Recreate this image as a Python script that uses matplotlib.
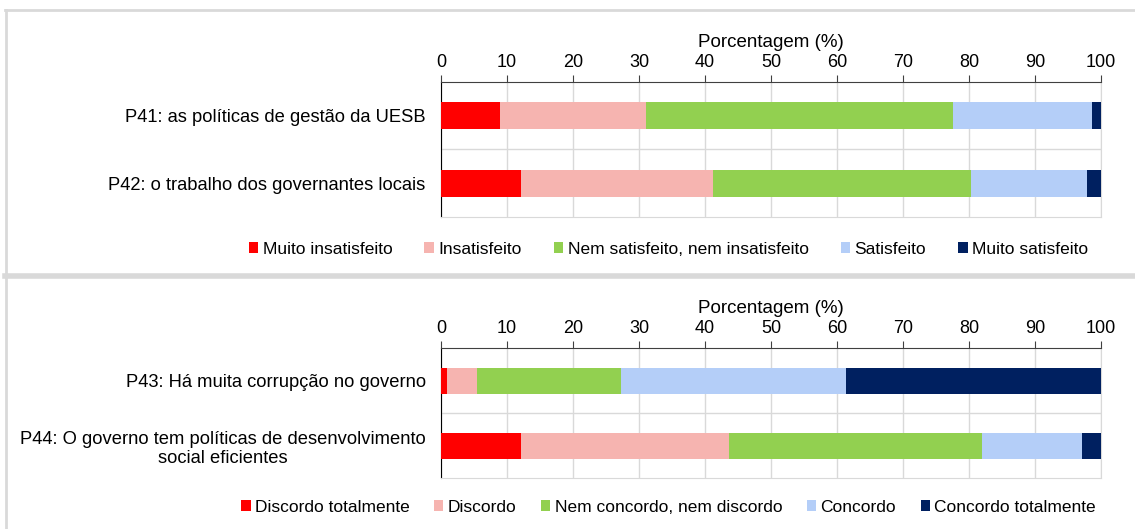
import matplotlib.pyplot as plt
import numpy as np
from matplotlib.patches import Patch
from matplotlib.lines import Line2D

plt.rcParams['font.family'] = ['Liberation Sans', 'DejaVu Sans']

# top chart: satisfaction
cats_top = ['P41: as políticas de gestão da UESB',
            'P42: o trabalho dos governantes locais']
labels_top = ['Muito insatisfeito', 'Insatisfeito', 'Nem satisfeito, nem insatisfeito',
              'Satisfeito', 'Muito satisfeito']
vals_top = [[8.9, 12.1],
            [22.2, 29.1],
            [46.4, 39.1],
            [21.2, 17.6],
            [1.3, 2.1]]

# bottom chart: agreement
cats_bot = ['P43: Há muita corrupção no governo',
            'P44: O governo tem políticas de desenvolvimento\nsocial eficientes']
labels_bot = ['Discordo totalmente', 'Discordo', 'Nem concordo, nem discordo',
              'Concordo', 'Concordo totalmente']
vals_bot = [[0.9, 12.1],
            [4.5, 31.6],
            [21.9, 38.3],
            [34.0, 15.1],
            [38.7, 2.9]]

colors = ['#FF0000', '#F6B4B0', '#92D050', '#B4CEF8', '#002060']
grid_c = '#D9D9D9'

fig = plt.figure(figsize=(11.35, 5.29), dpi=100)

# panel frames
fig.add_artist(Line2D([0.004, 1.0], [1 - 10/529, 1 - 10/529], color=grid_c, lw=2))
fig.add_artist(Line2D([0.005, 0.005], [0, 1 - 10/529], color=grid_c, lw=2))
fig.add_artist(Line2D([0.004, 1.0], [1 - 275.5/529, 1 - 275.5/529], color=grid_c, lw=4))


def draw(ax, cats, vals, labels, legend_y, colspace):
    y = np.arange(len(cats))
    left = np.zeros(len(cats))
    handles = []
    for v, c, lab in zip(vals, colors, labels):
        ax.barh(y, v, left=left, height=0.4, color=c, zorder=3)
        left += np.array(v)
        handles.append(Patch(facecolor=c, label=lab))
    ax.set_xlim(0, 100)
    ax.set_ylim(len(cats) - 0.5, -0.5)
    ax.set_xticks(np.arange(0, 101, 10))
    ax.xaxis.tick_top()
    ax.xaxis.set_label_position('top')
    ax.set_xlabel('Porcentagem (%)', fontsize=13.5, labelpad=5)
    ax.tick_params(axis='x', labelsize=13, length=5, color='#404040', pad=3)
    ax.set_yticks(y)
    ax.set_yticklabels(cats, fontsize=13.2, multialignment='center')
    ax.tick_params(axis='y', length=0, pad=11)
    ax.set_yticks(np.arange(0.5, len(cats) - 0.5), minor=True)
    ax.tick_params(axis='y', which='minor', length=0)
    ax.grid(axis='x', color=grid_c, lw=1, zorder=0)
    ax.grid(axis='y', which='minor', color=grid_c, lw=1, zorder=0)
    ax.spines['top'].set_color('#404040')
    ax.spines['left'].set_color('black')
    ax.spines['right'].set_color(grid_c)
    ax.spines['bottom'].set_color(grid_c)
    fig.legend(handles=handles, loc='center', bbox_to_anchor=(0.589, legend_y),
               ncol=5, frameon=False, fontsize=12.5, handlelength=0.55,
               handleheight=0.55, handletextpad=0.25, columnspacing=colspace,
               borderaxespad=0)


ax1 = fig.add_axes([441/1135, 1 - 217/529, 660/1135, 135/529])
draw(ax1, cats_top, vals_top, labels_top, 1 - 249/529, 1.85)

ax2 = fig.add_axes([441/1135, 1 - 478/529, 660/1135, 130/529])
draw(ax2, cats_bot, vals_bot, labels_bot, 1 - 507/529, 1.4)

fig.savefig('out.png', dpi=100)
